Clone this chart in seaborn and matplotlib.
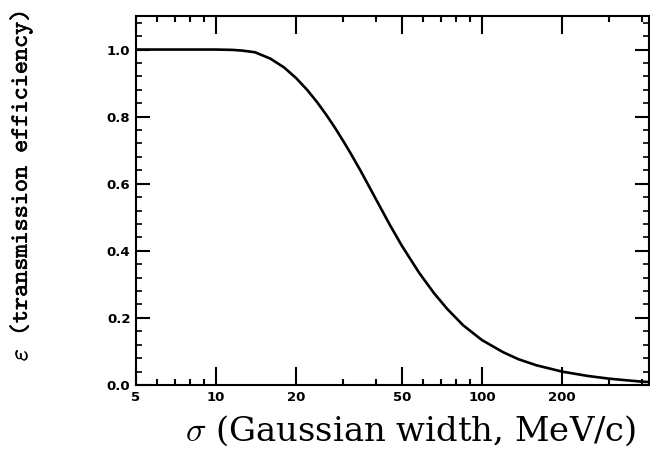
import matplotlib
matplotlib.use("Agg")
import matplotlib.pyplot as plt
import matplotlib.patheffects as pe
import seaborn as sns
import pandas as pd
from matplotlib.ticker import FixedLocator, NullFormatter

# Transmission efficiency versus Gaussian momentum width
sigma = [5, 8, 10, 11.5, 12.5, 14, 16, 18, 20, 22, 24, 26, 28, 30, 32, 35,
         40, 45, 50, 58, 66, 74, 85, 100, 120, 137, 160, 200, 250, 300,
         350, 400, 425]
efficiency = [1.000, 1.000, 1.000, 0.999, 0.997, 0.992, 0.973, 0.947, 0.915,
              0.880, 0.843, 0.805, 0.767, 0.729, 0.692, 0.638, 0.553, 0.478,
              0.415, 0.335, 0.274, 0.227, 0.178, 0.134, 0.098, 0.077, 0.059,
              0.040, 0.027, 0.019, 0.014, 0.010, 0.009]

x_major = [5, 10, 20, 50, 100, 200]
x_major_labels = ["5", "10", "20", "50", "100", "200"]
x_minor = [6, 7, 8, 9, 30, 40, 60, 70, 80, 90, 300, 400]
y_major = [0.0, 0.2, 0.4, 0.6, 0.8, 1.0]
y_major_labels = ["0.0", "0.2", "0.4", "0.6", "0.8", "1.0"]
y_minor = [0.04, 0.08, 0.12, 0.16, 0.24, 0.28, 0.32, 0.36, 0.44, 0.48, 0.52,
           0.56, 0.64, 0.68, 0.72, 0.76, 0.84, 0.88, 0.92, 0.96, 1.04, 1.08]

df = pd.DataFrame({"sigma": sigma, "eff": efficiency})

sns.set_style("ticks")
plt.rcParams["mathtext.fontset"] = "cm"

fig = plt.figure(figsize=(6.5, 4.55), dpi=100)
ax = fig.add_axes([136 / 650, 1 - 385 / 455, (649 - 136) / 650, (385 - 16) / 455])

sns.lineplot(data=df, x="sigma", y="eff", ax=ax, color="black",
             linewidth=1.9, estimator=None, sort=True)

ax.set_xscale("log")
ax.set_xlim(5, 425)
ax.set_ylim(0, 1.1)

ax.xaxis.set_major_locator(FixedLocator(x_major))
ax.set_xticklabels(x_major_labels)
ax.xaxis.set_minor_locator(FixedLocator(x_minor))
ax.xaxis.set_minor_formatter(NullFormatter())
ax.yaxis.set_major_locator(FixedLocator(y_major))
ax.set_yticklabels(y_major_labels)
ax.yaxis.set_minor_locator(FixedLocator(y_minor))

for s in ax.spines.values():
    s.set_visible(True)
    s.set_linewidth(1.5)
    s.set_color("black")

ax.tick_params(axis="x", which="major", direction="in", length=13, width=1.5,
               top=True, bottom=True, pad=4, colors="black")
ax.tick_params(axis="x", which="minor", direction="in", length=4, width=1.5,
               top=True, bottom=True, colors="black")
ax.tick_params(axis="y", which="major", direction="in", length=10, width=1.5,
               left=True, right=True, pad=4, colors="black")
ax.tick_params(axis="y", which="minor", direction="in", length=4, width=1.2,
               left=True, right=True, colors="black")

for lab in ax.get_xticklabels() + ax.get_yticklabels():
    lab.set_fontfamily("DejaVu Sans")
    lab.set_fontweight("bold")
    lab.set_fontsize(9.5)
    lab.set_color("black")

ax.set_xlabel("")
ax.set_ylabel("")

xlab = fig.text(411 / 650, 1 - 431 / 455, r"$\sigma$ (Gaussian width, MeV/c)",
                fontfamily="DejaVu Serif", fontsize=20, color="black",
                ha="center", va="center")
ylab = fig.text(21 / 650, 1 - 186 / 455, r"$\varepsilon$ (transmission efficiency)",
                fontfamily=["cmtt10", "DejaVu Sans Mono"], fontsize=18,
                color="black", rotation=90, ha="center", va="center",
                path_effects=[pe.withStroke(linewidth=0.35, foreground="black")])

# size the axis titles to their intended spans
fig.canvas.draw()
r = fig.canvas.get_renderer()
w = xlab.get_window_extent(r).width
xlab.set_fontsize(20 * 452 / w)
h = ylab.get_window_extent(r).height
ylab.set_fontsize(18 * 350 / h)

fig.savefig("out.png", dpi=100)
